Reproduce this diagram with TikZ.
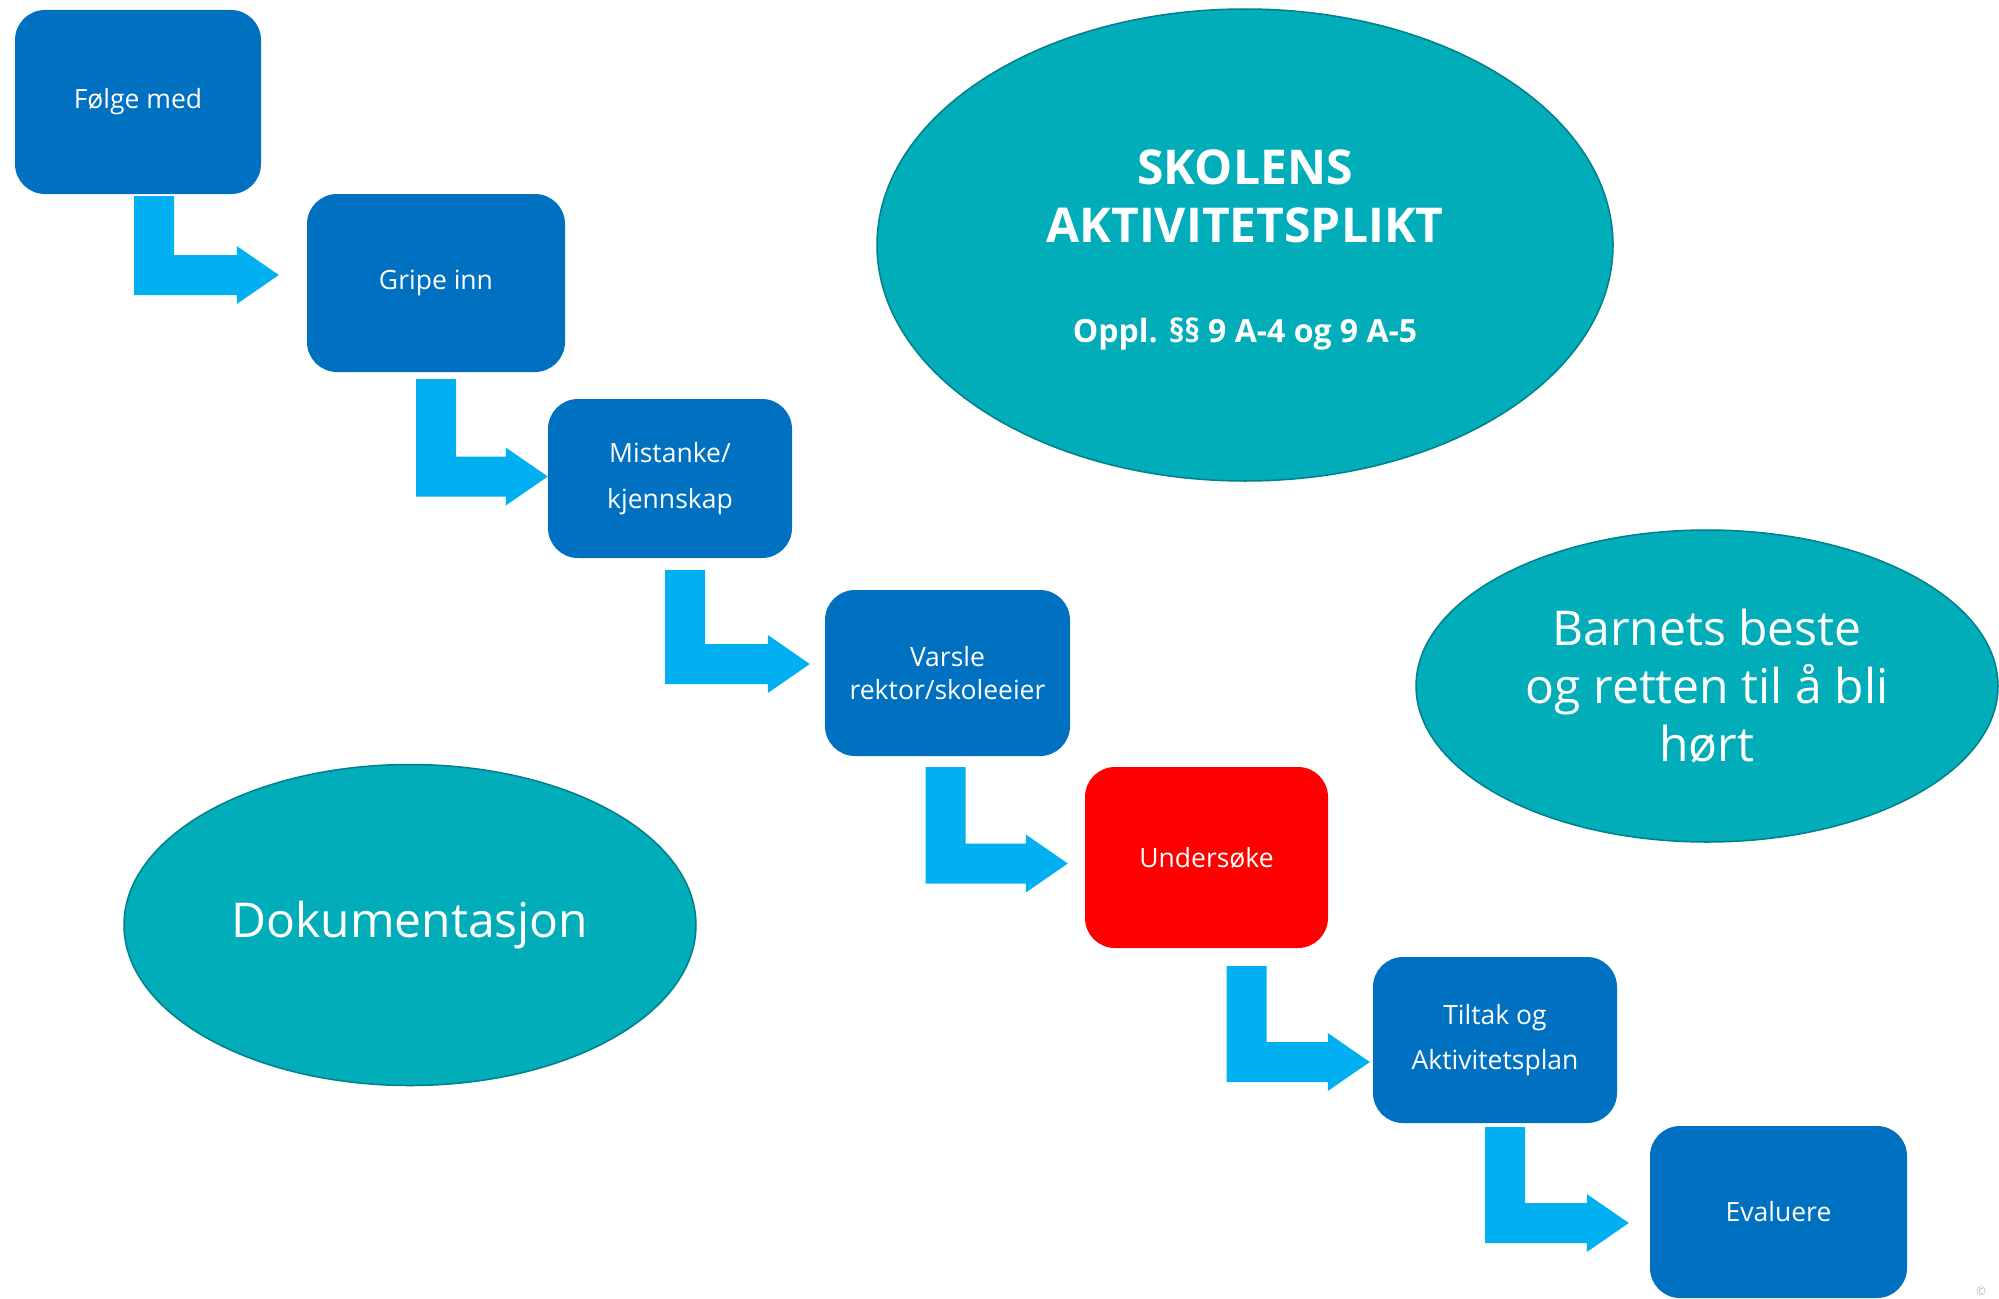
\documentclass[tikz,border=0pt]{standalone}
\usepackage{fontspec}
\setmainfont{Open Sans}
\usetikzlibrary{shapes.geometric}
\usetikzlibrary{calc}
\definecolor{boxblue}{RGB}{0,112,192}
\definecolor{alarmred}{RGB}{255,0,0}
\definecolor{arrowblue}{RGB}{0,176,240}
\definecolor{ovalteal}{RGB}{0,173,185}
\definecolor{ovalrim}{RGB}{0,128,138}
\tikzstyle{stepbox}=[rectangle,rounded corners=30pt,text=white,inner sep=0pt,align=center,font=\fontsize{26.5}{33}\selectfont]
\tikzstyle{oval}=[ellipse,fill=ovalteal,draw=ovalrim,line width=1.5pt,text=white,inner sep=0pt,align=center]
\tikzstyle{bentarrow}=[fill=arrowblue]

\begin{document}
\begin{tikzpicture}[x=1pt,y=-1pt]

  \clip (0,0) rectangle (1999,1298);

  % the steps
  \foreach \cx/\cy/\w/\h/\col/\name/\label in {138/102/246/184/boxblue/folge/{Følge med},
      436/283/258/178/boxblue/gripe/{Gripe inn},
      670/478.5/244/159/boxblue/mistanke/{Mistanke/\\[13pt]kjennskap},
      947.5/673/245/166/boxblue/varsle/{Varsle\\rektor/skoleeier},
      1206.5/857.5/243/181/alarmred/undersoke/{Undersøke},
      1495/1040/244/166/boxblue/tiltak/{Tiltak og\\[12pt]Aktivitetsplan},
      1778.5/1212/257/172/boxblue/evaluere/{Evaluere}}
    \node[stepbox, fill=\col, minimum width=\w, minimum height=\h] (\name) at (\cx,\cy) {\label};

  % bent arrows between the steps
  \foreach \src/\dst/\sx/\st/\ty/\tg in {folge/gripe/16/2/-8/28, gripe/mistanke/0/7/-2/0,
      mistanke/varsle/15/12/-9/15, varsle/undersoke/-2/11/6/17,
      undersoke/tiltak/40/18/22/3, tiltak/evaluere/10/4/11/21}
    \fill[bentarrow] let \p1=($(\src.south)+(\sx,\st)$), \p2=($(\dst.west)+(-\tg,\ty)$) in
      (\x1-20pt,\y1) -- (\x1+20pt,\y1) -- (\x1+20pt,\y2+20pt) -- (\x2-42pt,\y2+20pt)
      -- (\x2-42pt,\y2+29pt) -- (\x2,\y2) -- (\x2-42pt,\y2-29pt) -- (\x2-42pt,\y2-20pt)
      -- (\x1-20pt,\y2-20pt) -- cycle;

  % the ovals
  \node[oval, minimum width=736, minimum height=472, font=\fontsize{48}{58}\selectfont\bfseries] (plikt) at (1245,245)
    {\rule{0pt}{45pt}SKOLENS\\AKTIVITETSPLIKT\\[42pt]{\fontsize{32}{38}\selectfont Oppl. §§ 9 A-4 og 9 A-5}};
  \node[oval, minimum width=582, minimum height=312, font=\fontsize{48}{58}\selectfont] (barn) at (1707,686)
    {Barnets beste\\og retten til å bli\\hørt};
  \node[oval, minimum width=572, minimum height=321, font=\fontsize{48}{58}\selectfont] (dok) at (410,925)
    {Dokumentasjon};

  \node[text=black!30, font=\fontsize{12}{14}\selectfont, inner sep=0pt] (copy) at (1981,1291) {©};

\end{tikzpicture}
\end{document}
